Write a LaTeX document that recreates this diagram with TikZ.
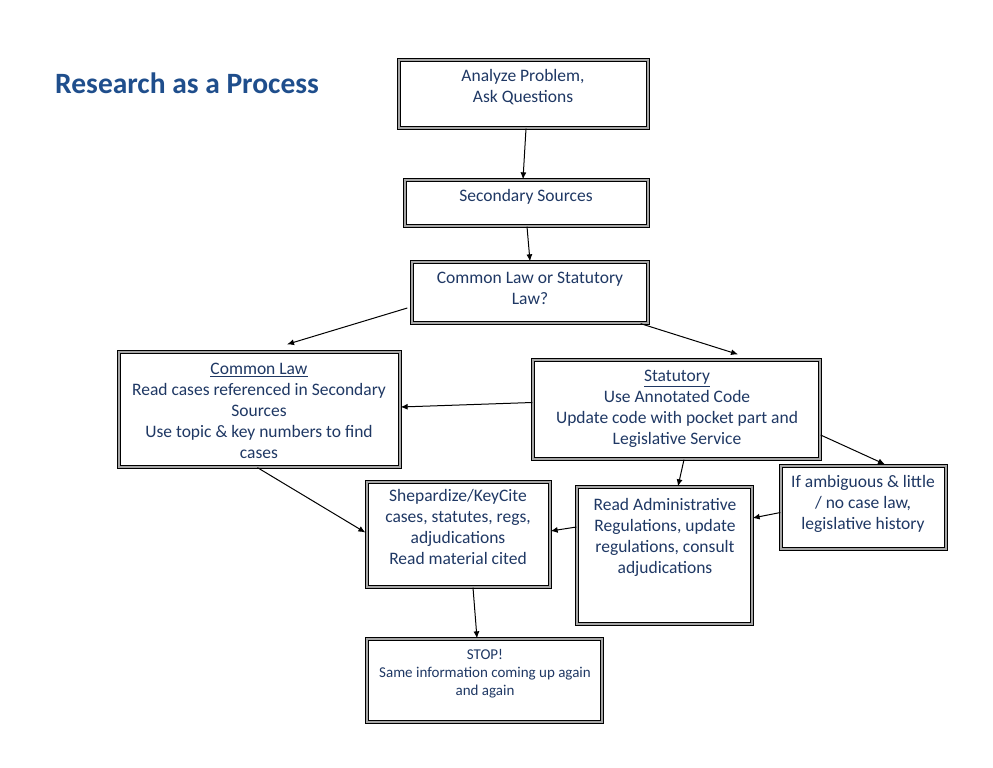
\documentclass[tikz,border=0pt]{standalone}
\usepackage{fontspec}
\setmainfont{Carlito}
\usetikzlibrary{arrows.meta,calc}
\definecolor{boxtext}{HTML}{1F3864}
\definecolor{titleblue}{HTML}{1F4E8C}
\tikzset{
  box/.style={draw=black, line width=1.3pt, double=black!35, double distance=1.1pt, inner sep=0pt, fill=white},
  btext/.style={anchor=north, inner sep=0pt, align=center, text=boxtext, font=\fontsize{17.5}{21}\selectfont},
  stext/.style={anchor=north, inner sep=0pt, align=center, text=boxtext, font=\fontsize{15}{18}\selectfont},
  conn/.style={line width=1pt, -{Latex[length=7pt,width=6pt]}}
}
\begin{document}
\begin{tikzpicture}[x=1pt,y=-1pt]
\useasboundingbox (0,0) rectangle (993,768);
\node[anchor=base west, inner sep=0pt, text=titleblue, font=\fontsize{29.5}{34}\selectfont\bfseries] (title) at (55,93) {Research as a Process};

\node[box, minimum width=249, minimum height=68] (an) at (523.5,94) {};
\node[box, minimum width=243, minimum height=46] (ss) at (526.5,203) {};
\node[box, minimum width=236, minimum height=61] (cs) at (530,292.5) {};
\node[box, minimum width=281, minimum height=115] (cl) at (259.5,409.5) {};
\node[box, minimum width=287, minimum height=99] (st) at (676.5,409.5) {};
\node[box, minimum width=183, minimum height=105] (sh) at (458.5,534.5) {};
\node[box, minimum width=175, minimum height=137] (ra) at (664.5,555.5) {};
\node[box, minimum width=165, minimum height=83] (ia) at (863.5,507.5) {};
\node[box, minimum width=235, minimum height=83] (sp) at (484.5,680.5) {};

\node[btext] (anT) at (523,69) {Analyze Problem,\\Ask Questions};
\node[btext] (ssT) at (526,189) {Secondary Sources};
\node[btext] (csT) at (530,272) {Common Law or Statutory\\Law?};
\node[btext] (clT) at (259,363) {\underline{Common Law}\\Read cases referenced in Secondary\\Sources\\Use topic \& key numbers to find\\cases};
\node[btext] (stT) at (677,370) {\underline{Statutory}\\Use Annotated Code\\Update code with pocket part and\\Legislative Service};
\node[btext] (shT) at (458,489) {Shepardize/KeyCite\\cases, statutes, regs,\\adjudications\\Read material cited};
\node[btext] (raT) at (665,498) {Read Administrative\\Regulations, update\\regulations, consult\\adjudications};
\node[btext] (iaT) at (863,475) {If ambiguous \& little\\/ no case law,\\legislative history};
\node[stext] (spT) at (485,649) {STOP!\\Same information coming up again\\and again};

\draw[conn] ($(an.south)+(2.5,0)$) -- ($(ss.north)+(-3.5,0)$);
\draw[conn] ($(ss.south)+(0.5,0)$) -- (cs.north);
\draw[conn] ($(cs.west)+(-4,15.5)$) -- ($(cl.north)+(27.5,-7)$);
\draw[conn] ($(cs.south east)+(-8,0)$) -- ($(st.north)+(61.5,-5)$);
\draw[conn] ($(st.west)+(0,-7)$) -- ($(cl.east)+(0,-2.5)$);
\draw[conn] ($(cl.south)+(-2,0)$) -- ($(sh.west)+(-1,-2)$);
\draw[conn] ($(st.south)+(7.5,0)$) -- ($(ra.north)+(13.5,0)$);
\draw[conn] ($(st.east)+(0,25.5)$) -- ($(ia.north)+(21.5,-1)$);
\draw[conn] ($(ia.west)+(0,5)$) -- ($(ra.east)+(0,-37.5)$);
\draw[conn] ($(ra.west)+(0,-28.5)$) -- ($(sh.east)+(0,-3.5)$);
\draw[conn] ($(sh.south)+(14.5,0)$) -- ($(sp.north)+(-7.5,0)$);
\end{tikzpicture}
\end{document}
